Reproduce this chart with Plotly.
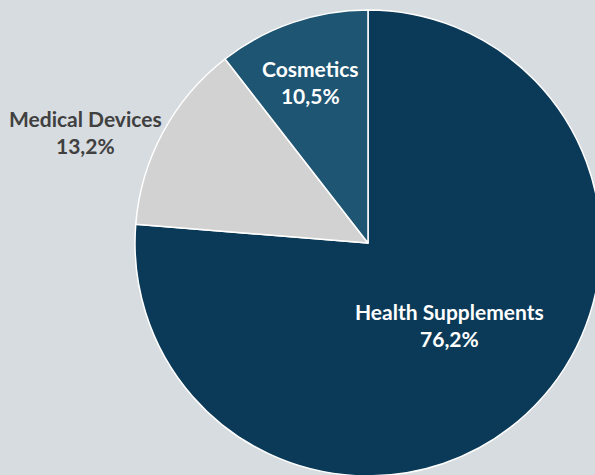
import plotly.graph_objects as go

# Data
categories = ["Health Supplements", "Medical Devices", "Cosmetics"]
shares = [76.2, 13.2, 10.5]
colors = ["#0b3a59", "#d2d2d2", "#1e5572"]
label_colors = ["#ffffff", "#404040", "#ffffff"]

W, H = 601, 476
bg = "#d7dce0"

fig = go.Figure(
    go.Pie(
        labels=categories,
        values=shares,
        sort=False,
        direction="clockwise",
        rotation=0,
        marker=dict(colors=colors, line=dict(color="#ffffff", width=1.5)),
        textinfo="none",
        hoverinfo="label+percent",
        showlegend=False,
        domain=dict(x=[135 / W, 1], y=[0, 466 / H]),
    )
)

# label anchor positions (pixel centres of the two-line labels)
label_pos = [(449, 325), (85, 132), (310, 82)]
for cat, val, col, (px, py) in zip(categories, shares, label_colors, label_pos):
    fig.add_annotation(
        x=px / W, y=1 - py / H, xref="paper", yref="paper",
        text=f"{cat}<br>{val:.1f}%".replace(".", ","),
        showarrow=False, xanchor="center", yanchor="middle",
        font=dict(family="Lato", size=21, color=col, weight="bold"),
    )

fig.update_layout(
    width=W, height=H,
    margin=dict(l=0, r=0, t=0, b=0),
    paper_bgcolor=bg, plot_bgcolor=bg,
)

fig.write_html(
    "out.html",
    post_script="document.body.style.margin='0';document.body.style.overflow='hidden';document.documentElement.style.overflow='hidden';",
)
